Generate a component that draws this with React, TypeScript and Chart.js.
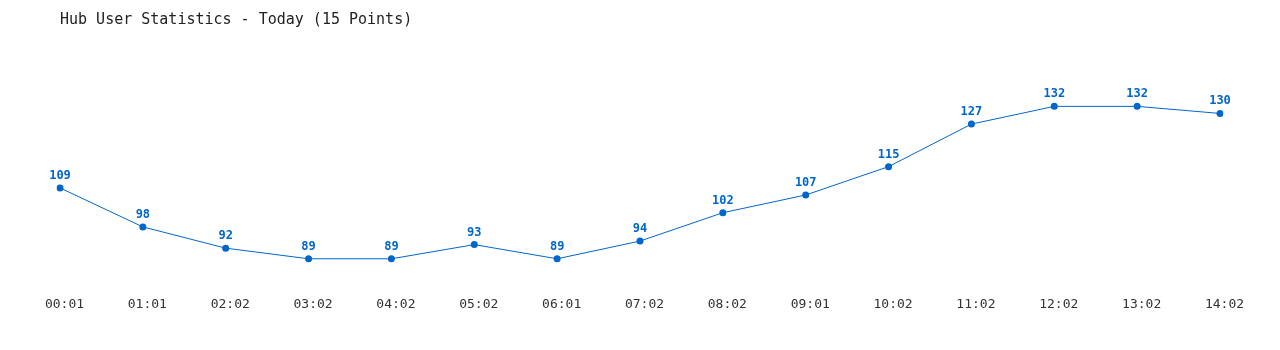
import React, { useEffect, useRef } from "react";
import { Chart, registerables } from "chart.js";

Chart.register(...registerables);

const TITLE = "Hub User Statistics - Today (15 Points)";
const timeLabels = ["00:01", "01:01", "02:02", "03:02", "04:02", "05:02", "06:01", "07:02", "08:02", "09:01", "10:02", "11:02", "12:02", "13:02", "14:02"];
const userCounts = [109, 98, 92, 89, 89, 93, 89, 94, 102, 107, 115, 127, 132, 132, 130];

const BLUE = "#0066cc";
const MONO = "'DejaVu Sans Mono', 'Liberation Mono', monospace";

const overlayPlugin = {
  id: "overlay",
  afterDatasetsDraw(chart: any) {
    const ctx = chart.ctx;
    ctx.save();
    // title
    ctx.fillStyle = "#222";
    ctx.font = `15px ${MONO}`;
    ctx.textAlign = "left";
    ctx.textBaseline = "alphabetic";
    ctx.fillText(TITLE, 60, 23.5);
    // value labels
    const meta = chart.getDatasetMeta(0);
    ctx.fillStyle = BLUE;
    ctx.font = `bold 12px ${MONO}`;
    ctx.textAlign = "center";
    ctx.textBaseline = "alphabetic";
    meta.data.forEach((pt: any, i: number) => {
      const v = chart.data.datasets[0].data[i];
      ctx.fillText(String(v), pt.x, pt.y - 9);
    });
    ctx.restore();
  },
};

export default function App() {
  const ref = useRef<HTMLCanvasElement | null>(null);
  useEffect(() => {
    document.body.style.margin = "0";
    const chart = new Chart(ref.current!, {
      type: "line",
      data: {
        labels: timeLabels,
        datasets: [
          {
            data: userCounts,
            borderColor: BLUE,
            backgroundColor: BLUE,
            borderWidth: 1,
            pointRadius: 3.5,
            pointHoverRadius: 3.5,
            pointBackgroundColor: BLUE,
            pointBorderWidth: 0,
            tension: 0,
            fill: false,
          },
        ],
      },
      options: {
        responsive: false,
        animation: false,
        layout: { padding: { left: 60, right: 60, top: 78, bottom: 31.7 } },
        plugins: { legend: { display: false }, title: { display: false }, tooltip: { enabled: false } },
        scales: {
          x: {
            offset: false,
            grid: { display: false, drawTicks: false },
            border: { display: false },
            ticks: { color: "#333", font: { family: MONO, size: 13 }, padding: 6, labelOffset: 4.5, maxRotation: 0, autoSkip: false },
          },
          y: { display: false, min: 80, max: 140 },
        },
      },
      plugins: [overlayPlugin],
    });
    return () => chart.destroy();
  }, []);
  return <canvas ref={ref} width={1280} height={350} style={{ display: "block" }} />;
}
